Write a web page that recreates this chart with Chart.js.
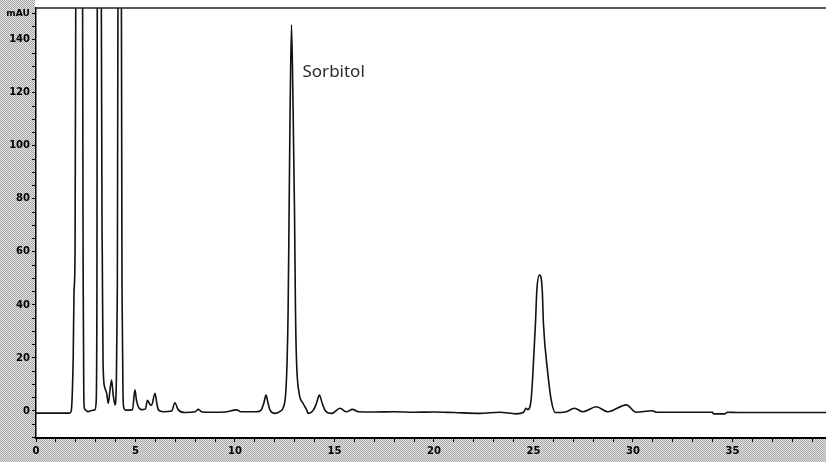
<!DOCTYPE html>
<html>
<head>
<meta charset="utf-8">
<script src="https://cdn.jsdelivr.net/npm/chart.js@4/dist/chart.umd.min.js"></script>
<style>
  body { margin: 0; background: #fff; }
  #wrap { width: 826px; height: 462px; position: relative; }
</style>
</head>
<body>
<div id="wrap"><canvas id="chrom"></canvas></div>
<script>
// retention time (min) and signal (mAU)
const times = [0, 1.70, 1.78, 1.83, 1.87, 1.91, 1.96, 2.00, 2.17, 2.34, 2.37, 2.40, 2.43, 2.55, 2.60, 2.75, 2.96,
  3.02, 3.06, 3.08, 3.16, 3.28, 3.33, 3.37, 3.45, 3.55, 3.63, 3.72, 3.80, 3.88, 3.97,
  4.04, 4.08, 4.12, 4.20, 4.29, 4.33, 4.37, 4.40, 4.50, 4.85, 4.97, 5.05, 5.14, 5.30, 5.50,
  5.60, 5.72, 5.81, 5.98, 6.08, 6.15, 6.40, 6.82, 6.98, 7.15, 7.50, 8.00, 8.16, 8.35, 9.00,
  9.50, 10.08, 10.30, 11.09, 11.31, 11.45, 11.56, 11.66, 11.76, 12.01, 12.30,
  12.41, 12.55, 12.62, 12.67, 12.72, 12.77, 12.84, 12.92, 12.99, 13.04, 13.09, 13.22, 13.42, 13.60, 13.68,
  13.94, 14.10, 14.24, 14.38, 14.52, 14.86, 15.28, 15.60, 15.90, 16.20, 17.00, 18.00, 19.00, 20.00,
  21.00, 22.30, 23.30, 24.13, 24.50, 24.63, 24.71, 24.88, 24.97, 25.10, 25.17, 25.30, 25.44, 25.50,
  25.72, 25.89, 26.10, 26.60, 27.06, 27.48, 28.16, 28.73, 29.67, 30.15, 30.96, 31.20, 34.00, 34.05,
  34.60, 34.75, 35.26, 39.70];
const mAU = [-0.8, -0.8, 0.5, 8, 20, 45, 58, 160, 2000, 160, 50, 8, 1.0, 0.1, -0.3, 0.1, 0.4,
  3, 40, 160, 2000, 160, 60, 18, 9, 6.7, 2.9, 8, 11.7, 6, 2.3,
  12, 40, 160, 2000, 160, 40, 8, 1.6, 0.3, 0.5, 8, 4, 1.6, 0.5, 0.8,
  4, 2.5, 2.2, 6.7, 2.5, 0.4, -0.3, 0, 3.1, 0.4, -0.6, -0.3, 0.6, -0.4, -0.5,
  -0.4, 0.4, -0.3, -0.3, 0.3, 3, 6, 3, 0.3, -0.9, 0,
  1, 6.8, 19.2, 38, 75.8, 113.6, 145.7, 113.6, 75.8, 38, 19.2, 6.8, 2.9, 0.4, -0.9,
  0.3, 3, 6, 3, 0.3, -0.9, 1.0, -0.3, 0.6, -0.3, -0.4, -0.3, -0.5, -0.4,
  -0.6, -0.9, -0.5, -1.1, -0.5, 1, 0.5, 4.2, 14.2, 33.1, 45.7, 51.3, 45.7, 33.1,
  14.2, 4.2, -0.6, -0.4, 1, -0.3, 1.6, -0.3, 2.3, -0.5, 0.1, -0.5, -0.5, -1.1,
  -1.1, -0.5, -0.6, -0.6];

const xLabelEvery = 5;
const yLabelEvery = 20;
const peakName = 'Sorbitol';
const peakAt = 12.84;

// dithered grey like the scanned instrument print-out
const dither = document.createElement('canvas');
dither.width = 2; dither.height = 2;
const dctx = dither.getContext('2d');
dctx.fillStyle = '#e2e2e2'; dctx.fillRect(0, 0, 2, 2);
dctx.fillStyle = '#a9a9a9'; dctx.fillRect(0, 0, 1, 1); dctx.fillRect(1, 1, 1, 1);

const frame = {
  id: 'frame',
  beforeDraw(chart) {
    const { ctx, chartArea: a, width, height } = chart;
    ctx.save();
    ctx.fillStyle = ctx.createPattern(dither, 'repeat');
    ctx.fillRect(0, 0, a.left - 1, height);
    ctx.fillRect(0, a.bottom + 1, width, height - a.bottom);
    ctx.restore();
  },
  afterDraw(chart) {
    const { ctx, chartArea: a, scales } = chart;
    ctx.save();
    ctx.strokeStyle = '#222';
    ctx.lineWidth = 1.5;
    ctx.beginPath();
    ctx.moveTo(a.left, a.top); ctx.lineTo(a.right, a.top);
    ctx.stroke();
    ctx.fillStyle = '#000';
    ctx.font = 'bold 9px "DejaVu Sans"';
    ctx.textAlign = 'center';
    ctx.textBaseline = 'middle';
    ctx.fillText('mAU', 18, 14);
    ctx.fillStyle = '#2a2a2a';
    ctx.font = '17px "Noto Sans"';
    ctx.textAlign = 'left';
    const px = scales.x.getPixelForValue(peakAt) + 11;
    ctx.fillText(peakName, px, 72);
    ctx.restore();
  }
};

new Chart(document.getElementById('chrom'), {
  type: 'scatter',
  data: {
    datasets: [{
      data: times.map((t, i) => ({ x: t, y: mAU[i] })),
      showLine: true,
      borderColor: '#111',
      borderWidth: 1.6,
      pointRadius: 0,
      cubicInterpolationMode: 'monotone'
    }]
  },
  options: {
    responsive: true,
    maintainAspectRatio: false,
    animation: false,
    layout: { padding: { top: 8, right: 0, left: 0, bottom: 0 } },
    plugins: { legend: { display: false }, tooltip: { enabled: false } },
    scales: {
      x: {
        type: 'linear', min: 0, max: 39.7,
        afterFit: s => { s.height = 24; },
        border: { color: '#000', width: 2 },
        grid: { drawOnChartArea: false, tickLength: 4, tickColor: '#000' },
        ticks: {
          stepSize: 1, includeBounds: false, autoSkip: false, maxRotation: 0, padding: 3,
          color: '#000', font: { family: 'DejaVu Sans', size: 10, weight: 'bold' },
          callback: v => (v % xLabelEvery === 0 ? String(v) : '')
        }
      },
      y: {
        type: 'linear', min: -10.2, max: 152,
        afterFit: s => { s.width = 36; },
        border: { color: '#000', width: 1.5 },
        grid: { drawOnChartArea: false, tickLength: 4, tickColor: '#000' },
        ticks: {
          stepSize: 5, includeBounds: false, autoSkip: false, padding: 2,
          color: '#000', font: { family: 'DejaVu Sans', size: 10, weight: 'bold' },
          callback: v => (v >= 0 && v % yLabelEvery === 0 ? String(v) : '')
        }
      }
    }
  },
  plugins: [frame]
});
</script>
</body>
</html>
